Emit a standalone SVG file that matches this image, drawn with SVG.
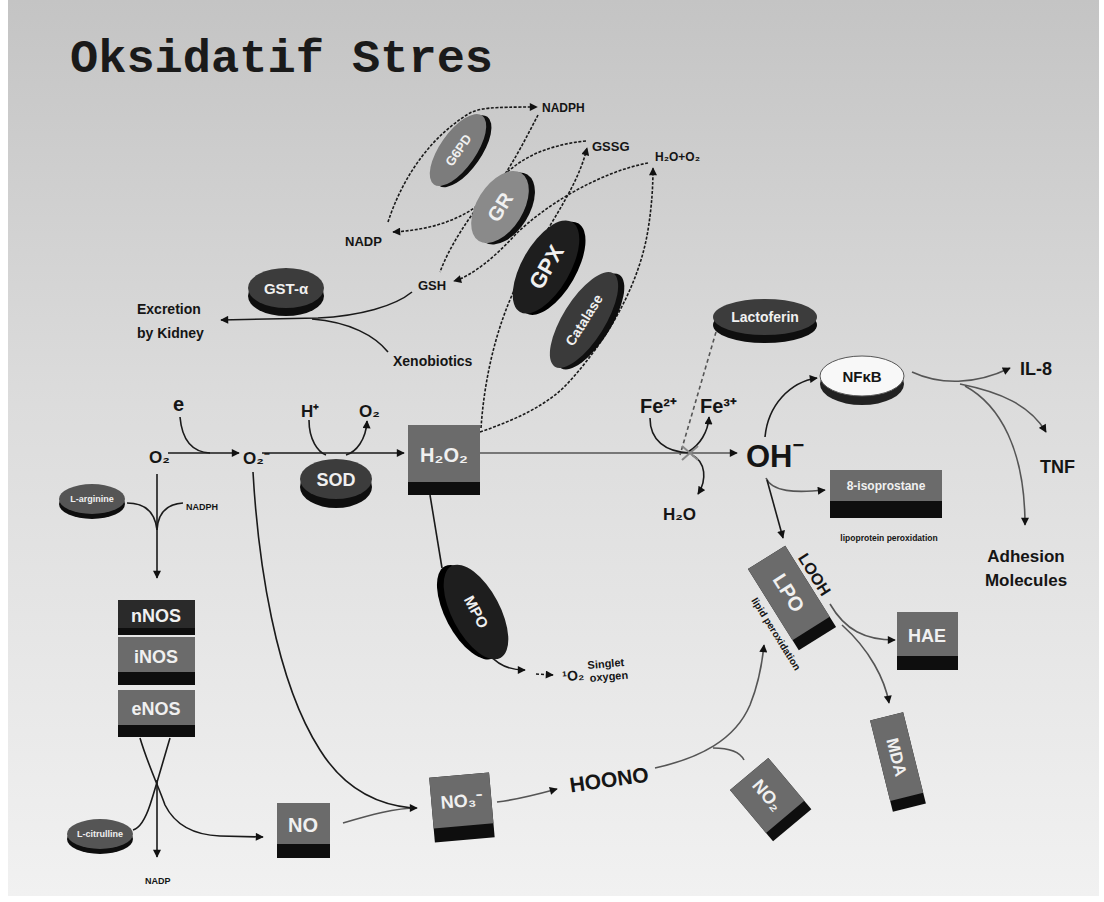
<svg xmlns="http://www.w3.org/2000/svg" width="1104" height="902" viewBox="0 0 1104 902">
<defs>
<linearGradient id="bg" x1="0" y1="0" x2="0" y2="1">
<stop offset="0" stop-color="#c4c4c4"/>
<stop offset="0.45" stop-color="#dcdcdc"/>
<stop offset="1" stop-color="#f1f1f1"/>
</linearGradient>
<marker id="ah" viewBox="0 0 10 10" refX="9" refY="5" markerWidth="9" markerHeight="8" markerUnits="userSpaceOnUse" orient="auto">
<path d="M0,0 L10,5 L0,10 z" fill="#111"/>
</marker>
<style>
.ln{fill:none;stroke:#1a1a1a;stroke-width:1.6}
.dl{stroke-dasharray:3 1.6}
.gr{stroke:#555}
.lb{font-family:"Liberation Sans",Arial,sans-serif;font-weight:bold;fill:#151515}
.nt{font-family:"Liberation Sans",Arial,sans-serif;font-weight:bold;fill:#f0f0f0;text-anchor:middle}
.bx{fill:#6b6b6b}
.bk{fill:#2a2a2a}
.bd{fill:#0e0e0e}
.sh{fill:#0e0e0e}
</style>
</defs>
<rect x="0" y="0" width="1104" height="902" fill="#ffffff"/>
<rect x="8" y="0" width="1091" height="896" fill="url(#bg)"/>
<text x="70" y="72" font-family="'Liberation Mono','Courier New',monospace" font-size="47" font-weight="bold" fill="#1a1a1a">Oksidatif Stres</text>

<g id="connectors">
<path class="ln" d="M168,453 L239,453" marker-end="url(#ah)"/>
<path class="ln" d="M180,417 C182,440 192,452 210,453"/>
<path class="ln" d="M262,453 L404,453" marker-end="url(#ah)"/>
<path class="ln" d="M309,420 C309,440 318,452 326,455"/>
<path class="ln" d="M346,455 C356,452 366,440 367,421" marker-end="url(#ah)"/>
<path class="ln gr" d="M480,453 L737,453" marker-end="url(#ah)"/>
<path class="ln" d="M650,418 C650,440 665,452 690,453"/>
<path class="ln" d="M688,452 C700,445 708,432 709,417" marker-end="url(#ah)"/>
<path class="ln" d="M692,455 C706,462 707,480 698,494" marker-end="url(#ah)"/>
<path class="ln gr" d="M716,332 L680,455" stroke-dasharray="4 3" stroke-width="1.2"/>
<path d="M682,446 L698,460 M682,460 L698,446" stroke="#888" stroke-width="2" fill="none"/>
<path class="ln" d="M765,437 C768,405 790,382 817,378" marker-end="url(#ah)"/>
<path class="ln gr" d="M766,478 C772,492 795,493 825,490" marker-end="url(#ah)"/>
<path class="ln" d="M767,480 L783,538" marker-end="url(#ah)"/>
<path class="ln gr" d="M912,372 C940,385 975,385 1010,368" marker-end="url(#ah)"/>
<path class="ln gr" d="M960,384 C1000,392 1030,405 1046,432" marker-end="url(#ah)"/>
<path class="ln gr" d="M965,386 C1000,405 1025,450 1025,525" marker-end="url(#ah)"/>
<path class="ln gr" d="M830,604 C845,630 865,640 895,640" marker-end="url(#ah)"/>
<path class="ln gr" d="M842,625 C870,650 885,680 889,703" marker-end="url(#ah)"/>
<path class="ln gr" d="M655,768 C700,758 735,740 750,705 C758,685 762,665 764,645" marker-end="url(#ah)"/>
<path class="ln gr" d="M713,748 C728,748 740,752 744,760"/>
<path class="ln gr" d="M497,802 C515,800 535,795 557,789" marker-end="url(#ah)"/>
<path class="ln gr" d="M343,823 C370,815 395,808 417,808" marker-end="url(#ah)"/>
<path class="ln" d="M253,472 C258,560 275,680 320,750 C345,790 380,805 412,808"/>
<path class="ln" d="M430,495 L442,568"/>
<path class="ln" d="M490,655 C498,665 510,670 525,670" marker-end="url(#ah)"/>
<path class="ln" d="M536,674 L553,675" stroke-dasharray="3 2" marker-end="url(#ah)"/>
<path class="ln" d="M157,474 L157,578" marker-end="url(#ah)"/>
<path class="ln" d="M127,503 C145,503 155,512 157,530"/>
<path class="ln" d="M183,503 C168,504 158,512 157,530"/>
<path class="ln" d="M140,738 C148,765 158,785 165,805 C175,825 195,835 220,836 L263,837" marker-end="url(#ah)"/>
<path class="ln" d="M170,738 C162,765 155,790 150,805 C145,820 140,828 133,830"/>
<path class="ln" d="M157,780 L157,857" marker-end="url(#ah)"/>
<path class="ln dl" d="M388,222 C400,185 425,140 470,113 C480,108 490,107 537,107" marker-end="url(#ah)"/>
<path class="ln dl" d="M538,115 C525,140 510,170 490,195 C465,220 430,230 393,232" marker-end="url(#ah)"/>
<path class="ln dl" d="M586,141 C545,145 515,160 495,185 C470,215 450,245 440,272"/>
<path class="ln dl" d="M481,428 C485,370 500,310 530,260 C555,215 578,185 587,148" marker-end="url(#ah)"/>
<path class="ln dl" d="M648,163 C600,172 545,205 515,235 C495,257 472,276 454,281" marker-end="url(#ah)"/>
<path class="ln dl" d="M480,432 C515,420 548,405 568,383 C612,335 640,280 648,230 C652,205 653,185 653,168" marker-end="url(#ah)"/>
<path class="ln" d="M412,292 C395,306 360,316 318,318 L221,320" marker-end="url(#ah)"/>
<path class="ln" d="M388,352 C375,336 350,322 312,319"/>
</g>

<g id="G6PD" transform="translate(458,150) rotate(-55)">
<ellipse cx="2" cy="5" rx="42" ry="18" class="sh"/>
<ellipse cx="0" cy="0" rx="42" ry="18" fill="#7c7c7c"/>
<text class="nt" x="0" y="5" font-size="13">G6PD</text>
</g>
<g id="GR" transform="translate(500,207) rotate(-58)">
<ellipse cx="2" cy="6" rx="40" ry="23" class="sh"/>
<ellipse cx="0" cy="0" rx="40" ry="23" fill="#8a8a8a"/>
<text class="nt" x="0" y="7" font-size="20">GR</text>
</g>
<g id="GPX" transform="translate(546,267) rotate(-60)">
<ellipse cx="2" cy="6" rx="52" ry="24" fill="#000"/>
<ellipse cx="0" cy="0" rx="52" ry="24" fill="#1e1e1e"/>
<text class="nt" x="0" y="8" font-size="22">GPX</text>
</g>
<g id="Catalase" transform="translate(584,320) rotate(-58)">
<ellipse cx="2" cy="6" rx="55" ry="21" class="sh"/>
<ellipse cx="0" cy="0" rx="55" ry="21" fill="#3a3a3a"/>
<text class="nt" x="0" y="5" font-size="14">Catalase</text>
</g>
<g id="GST">
<ellipse cx="286" cy="296" rx="38" ry="20" class="sh"/>
<ellipse cx="286" cy="288" rx="38" ry="20" fill="#3c3c3c"/>
<text class="nt" x="286" y="294" font-size="15">GST-α</text>
</g>
<g id="SOD">
<ellipse cx="336" cy="487" rx="36" ry="21" class="sh"/>
<ellipse cx="336" cy="479" rx="36" ry="20" fill="#3c3c3c"/>
<text class="nt" x="336" y="486" font-size="18">SOD</text>
</g>
<g id="Lactoferin">
<ellipse cx="765" cy="325" rx="52" ry="18" class="sh"/>
<ellipse cx="765" cy="317" rx="52" ry="18" fill="#3c3c3c"/>
<text class="nt" x="765" y="322" font-size="14">Lactoferin</text>
</g>
<g id="NFkB">
<ellipse cx="862" cy="384" rx="42" ry="21" fill="#222"/>
<ellipse cx="862" cy="376" rx="42" ry="20" fill="#f8f8f8" stroke="#555" stroke-width="1"/>
<text class="lb" x="862" y="382" font-size="15" text-anchor="middle">NFκB</text>
</g>
<g id="MPO" transform="translate(476,612) rotate(62)">
<ellipse cx="-3" cy="6" rx="52" ry="24" fill="#000"/>
<ellipse cx="0" cy="0" rx="52" ry="24" fill="#1e1e1e"/>
<text class="nt" x="0" y="5" font-size="15">MPO</text>
</g>
<g id="Larginine">
<ellipse cx="92" cy="504" rx="33" ry="15" class="sh"/>
<ellipse cx="92" cy="499" rx="33" ry="15" fill="#555"/>
<text class="nt" x="92" y="502" font-size="9">L-arginine</text>
</g>
<g id="Lcitrulline">
<ellipse cx="100" cy="839" rx="33" ry="15" class="sh"/>
<ellipse cx="100" cy="834" rx="33" ry="15" fill="#555"/>
<text class="nt" x="100" y="837" font-size="9">L-citrulline</text>
</g>

<g id="H2O2">
<rect x="408" y="425" width="72" height="70" class="bd"/>
<rect x="408" y="425" width="72" height="57" class="bx"/>
<text class="nt" x="444" y="462" font-size="20">H₂O₂</text>
</g>
<g id="isoprostane">
<rect x="830" y="470" width="112" height="48" class="bd"/>
<rect x="830" y="470" width="112" height="31" class="bx"/>
<text class="nt" x="886" y="490" font-size="12">8-isoprostane</text>
<text class="lb" x="889" y="541" font-size="8.5" text-anchor="middle" fill="#333">lipoprotein peroxidation</text>
</g>
<g id="nNOS">
<rect x="118" y="600" width="77" height="35" class="bd"/>
<rect x="118" y="600" width="77" height="28" class="bk"/>
<text class="nt" x="156" y="622" font-size="18">nNOS</text>
</g>
<g id="iNOS">
<rect x="118" y="637" width="77" height="48" class="bd"/>
<rect x="118" y="637" width="77" height="35" class="bx"/>
<text class="nt" x="156" y="663" font-size="18">iNOS</text>
</g>
<g id="eNOS">
<rect x="118" y="690" width="77" height="47" class="bd"/>
<rect x="118" y="690" width="77" height="35" class="bx"/>
<text class="nt" x="156" y="715" font-size="18">eNOS</text>
</g>
<g id="NO">
<rect x="277" y="803" width="53" height="55" class="bd"/>
<rect x="277" y="803" width="53" height="41" class="bx"/>
<text class="nt" x="303" y="832" font-size="20">NO</text>
</g>
<g id="NO3" transform="rotate(-5 462 808)">
<rect x="432" y="775" width="60" height="65" class="bd"/>
<rect x="432" y="775" width="60" height="51" class="bx"/>
<text class="nt" x="462" y="807" font-size="18">NO₃⁻</text>
</g>
<g id="HAE">
<rect x="897" y="612" width="61" height="58" class="bd"/>
<rect x="897" y="612" width="61" height="44" class="bx"/>
<text class="nt" x="927" y="642" font-size="18">HAE</text>
</g>
<g id="LPO" transform="translate(792,598) rotate(58)">
<rect x="-48" y="-22" width="96" height="44" class="bd"/>
<rect x="-48" y="-22" width="84" height="44" class="bx"/>
<text class="nt" x="-6" y="7" font-size="20">LPO</text>
<text class="lb" x="-8" y="-26" font-size="16" text-anchor="middle">LOOH</text>
<text class="lb" x="22" y="36" font-size="10" text-anchor="middle" fill="#666">lipid peroxidation</text>
</g>
<g id="MDA" transform="translate(898,762) rotate(76)">
<rect x="-47" y="-17" width="94" height="34" class="bd"/>
<rect x="-47" y="-17" width="83" height="34" class="bx"/>
<text class="nt" x="-5" y="6" font-size="17">MDA</text>
</g>
<g id="NO2" transform="translate(771,800) rotate(50)">
<rect x="-34" y="-25" width="67" height="50" class="bd"/>
<rect x="-34" y="-25" width="56" height="50" class="bx"/>
<text class="nt" x="-6" y="6" font-size="18">NO₂</text>
</g>

<g id="labels">
<text class="lb" x="542" y="112" font-size="12">NADPH</text>
<text class="lb" x="345" y="246" font-size="13">NADP</text>
<text class="lb" x="592" y="151" font-size="13">GSSG</text>
<text class="lb" x="655" y="161" font-size="12">H₂O+O₂</text>
<text class="lb" x="418" y="290" font-size="13">GSH</text>
<text class="lb" x="137" y="314" font-size="14">Excretion</text>
<text class="lb" x="137" y="338" font-size="14">by Kidney</text>
<text class="lb" x="393" y="366" font-size="14">Xenobiotics</text>
<text class="lb" x="149" y="463" font-size="17">O₂</text>
<text class="lb" x="173" y="411" font-size="20">e</text>
<text class="lb" x="243" y="464" font-size="17">O₂⁻</text>
<text class="lb" x="301" y="417" font-size="17">H⁺</text>
<text class="lb" x="359" y="417" font-size="17">O₂</text>
<text class="lb" x="640" y="413" font-size="20">Fe²⁺</text>
<text class="lb" x="700" y="413" font-size="20">Fe³⁺</text>
<text class="lb" x="663" y="520" font-size="17">H₂O</text>
<text class="lb" x="746" y="467" font-size="31">OH<tspan font-size="20" dy="-15">−</tspan></text>
<text class="lb" x="1020" y="375" font-size="18">IL-8</text>
<text class="lb" x="1040" y="473" font-size="18">TNF</text>
<text class="lb" x="1026" y="562" font-size="17" text-anchor="middle">Adhesion</text>
<text class="lb" x="1026" y="586" font-size="17" text-anchor="middle">Molecules</text>
<text class="lb" x="609" y="787" font-size="21" text-anchor="middle" transform="rotate(-8 609 779)">HOONO</text>
<g transform="rotate(-5 600 670)">
<text class="lb" x="562" y="678" font-size="14">¹O₂</text>
<text class="lb" x="588" y="668" font-size="11">Singlet</text>
<text class="lb" x="589" y="681" font-size="11">oxygen</text>
</g>
<text class="lb" x="186" y="510" font-size="9">NADPH</text>
<text class="lb" x="145" y="884" font-size="9">NADP</text>
</g>
</svg>
